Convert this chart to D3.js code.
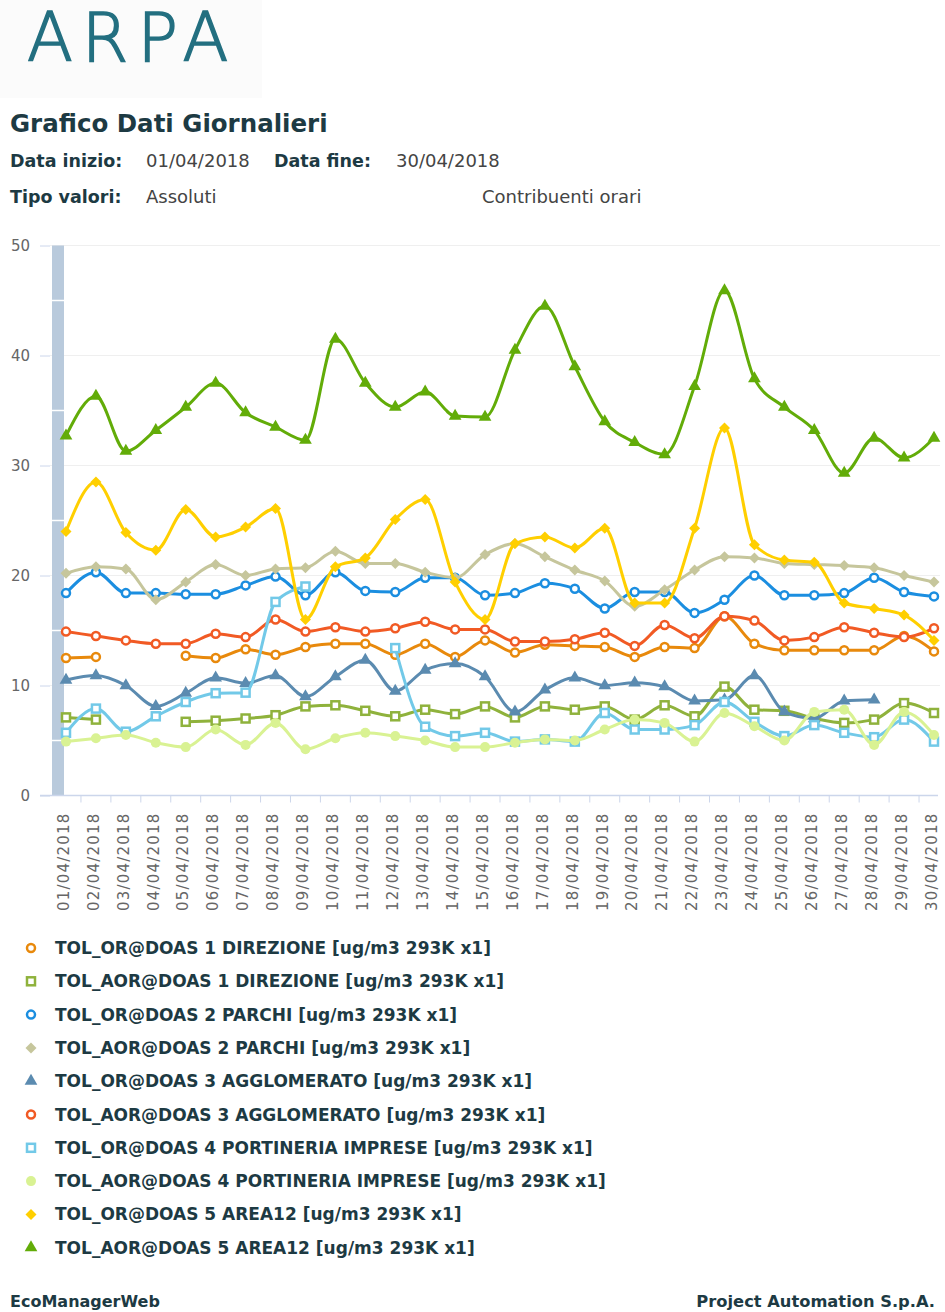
<!DOCTYPE html>
<meta charset="utf-8">
<style>
body { margin: 0; background: #fff; }
text { font-family: "DejaVu Sans", Verdana, sans-serif; }
.grid line { stroke: #efefef; stroke-width: 1; }
.axis--y path, .axis--x path { display: none; }
.axis line { stroke: #ccd6eb; }
.axis text { fill: #666; font-size: 15px; }
.series path.line { fill: none; stroke-width: 3px; stroke-linejoin: round; }
</style>
<svg width="945" height="1312"></svg>
<script src="https://d3js.org/d3.v7.min.js"></script>
<script>
var days = ["01/04/2018","02/04/2018","03/04/2018","04/04/2018","05/04/2018","06/04/2018","07/04/2018","08/04/2018","09/04/2018","10/04/2018",
            "11/04/2018","12/04/2018","13/04/2018","14/04/2018","15/04/2018","16/04/2018","17/04/2018","18/04/2018","19/04/2018","20/04/2018",
            "21/04/2018","22/04/2018","23/04/2018","24/04/2018","25/04/2018","26/04/2018","27/04/2018","28/04/2018","29/04/2018","30/04/2018"];
var yTicks = [0, 10, 20, 30, 40, 50];

var names = ["TOL_OR@DOAS 1 DIREZIONE [ug/m3 293K x1]",
             "TOL_AOR@DOAS 1 DIREZIONE [ug/m3 293K x1]",
             "TOL_OR@DOAS 2 PARCHI [ug/m3 293K x1]",
             "TOL_AOR@DOAS 2 PARCHI [ug/m3 293K x1]",
             "TOL_OR@DOAS 3 AGGLOMERATO [ug/m3 293K x1]",
             "TOL_AOR@DOAS 3 AGGLOMERATO [ug/m3 293K x1]",
             "TOL_OR@DOAS 4 PORTINERIA IMPRESE [ug/m3 293K x1]",
             "TOL_AOR@DOAS 4 PORTINERIA IMPRESE [ug/m3 293K x1]",
             "TOL_OR@DOAS 5 AREA12 [ug/m3 293K x1]",
             "TOL_AOR@DOAS 5 AREA12 [ug/m3 293K x1]"];
var colors = ["#e8890c","#8fb23c","#1b8ee0","#c6c69c","#5b8bb0","#f15a24","#72c9e8","#d9f293","#ffcf00","#62ac08"];
var shapes = ["ring","square","ring","diamond","triangle","ring","square","dot","diamond","triangle"];

var or1  = [12.5,12.6,null,null,12.7,12.5,13.3,12.8,13.5,13.8,13.8,12.8,13.8,12.6,14.1,13.0,13.7,13.6,13.5,12.6,13.5,13.4,16.3,13.8,13.2,13.2,13.2,13.2,14.5,13.1];
var aor1 = [7.1,6.9,null,null,6.7,6.8,7.0,7.3,8.1,8.2,7.7,7.2,7.8,7.4,8.1,7.1,8.1,7.8,8.1,6.9,8.2,7.2,9.9,7.8,7.7,7.0,6.6,6.9,8.4,7.5];
var or2  = [18.4,20.3,18.4,18.4,18.3,18.3,19.1,19.9,18.2,20.3,18.6,18.5,19.8,19.8,18.2,18.4,19.3,18.8,17.0,18.5,18.5,16.6,17.8,20.0,18.2,18.2,18.4,19.8,18.5,18.1];
var aor2 = [20.2,20.8,20.6,17.8,19.4,21.0,20.0,20.6,20.7,22.2,21.1,21.1,20.3,19.8,21.9,22.9,21.7,20.5,19.5,17.2,18.7,20.5,21.7,21.6,21.1,21.0,20.9,20.7,20.0,19.4];
var or3  = [10.5,10.9,10.0,8.1,9.3,10.7,10.2,10.9,9.0,10.8,12.3,9.5,11.4,12.0,10.8,7.6,9.6,10.7,10.0,10.25,9.9,8.6,8.7,10.9,7.6,7.0,8.6,8.7,null,null];
var aor3 = [14.9,14.5,14.1,13.8,13.8,14.7,14.4,16.0,14.9,15.3,14.9,15.2,15.8,15.1,15.1,14.0,14.0,14.2,14.8,13.6,15.5,14.3,16.3,15.9,14.1,14.4,15.3,14.8,14.4,15.2];
var or4  = [5.7,7.9,5.8,7.2,8.5,9.3,9.35,17.6,19.0,null,null,13.4,6.25,5.4,5.7,4.9,5.1,4.9,7.5,6.0,6.0,6.4,8.5,6.7,5.4,6.4,5.7,5.3,6.9,4.9];
var aor4 = [4.9,5.2,5.5,4.8,4.4,6.0,4.6,6.6,4.2,5.2,5.7,5.4,5.0,4.4,4.4,4.8,5.1,5.0,6.0,6.9,6.6,4.9,7.5,6.3,5.0,7.6,7.8,4.6,7.6,5.5];
var or5  = [24.0,28.5,23.9,22.3,26.0,23.5,24.4,26.1,16.0,20.8,21.6,25.1,26.9,19.4,16.0,22.9,23.5,22.5,24.3,17.5,17.5,24.3,33.4,22.8,21.4,21.2,17.5,17.0,16.4,14.1];
var aor5 = [32.7,36.3,31.3,33.2,35.3,37.5,34.8,33.5,32.3,41.5,37.5,35.3,36.7,34.5,34.4,40.5,44.5,39.0,34.0,32.1,31.0,37.2,45.9,37.9,35.3,33.2,29.3,32.5,30.7,32.5];
var seriesValues = [or1, aor1, or2, aor2, or3, aor3, or4, aor4, or5, aor5];

var svg = d3.select("svg");
var ink = "#1d3a43";

// logo
svg.append("rect").attr("x", 0).attr("y", 0).attr("width", 262).attr("height", 98).attr("fill", "#fbfbfb");
svg.append("text").attr("x", 27).attr("y", 61)
    .style("font-size", "67px").style("font-weight", 200).style("letter-spacing", "9px")
    .attr("fill", "#236f80").attr("stroke", "#236f80").attr("stroke-width", 1.6)
    .text("ARPA");

// header
svg.append("text").attr("x", 10).attr("y", 132).style("font-size", "24.5px").style("font-weight", "bold")
    .attr("fill", ink).text("Grafico Dati Giornalieri");
function label(x, y, t, bold) {
  svg.append("text").attr("x", x).attr("y", y).style("font-size", bold ? "17.5px" : "18px")
    .style("font-weight", bold ? "bold" : "normal").attr("fill", bold ? ink : "#444").text(t);
}
label(10, 167, "Data inizio:", true);
label(146, 167, "01/04/2018");
label(274, 167, "Data fine:", true);
label(396, 167, "30/04/2018");
label(10, 203, "Tipo valori:", true);
label(146, 203, "Assoluti");
label(482, 203, "Contribuenti orari");

// chart
var x = d3.scaleLinear().domain([0, days.length - 1]).range([66, 934]),
    y = d3.scaleLinear().domain([0, 50]).range([795.5, 245.5]);

svg.append("g").attr("class", "grid")
  .selectAll("line").data(yTicks.slice(1)).enter().append("line")
    .attr("x1", 50).attr("x2", 940)
    .attr("y1", function(d) { return y(d); }).attr("y2", function(d) { return y(d); });

// column at left edge
svg.append("rect").attr("x", 52).attr("width", 12)
    .attr("y", y(50)).attr("height", y(0) - y(50)).attr("fill", "#b9cadc");
svg.append("g").selectAll("line").data([5, 15, 25, 35, 45]).enter().append("line")
    .attr("x1", 52).attr("x2", 64)
    .attr("y1", function(d) { return y(d); }).attr("y2", function(d) { return y(d); })
    .attr("stroke", "#fff").attr("stroke-width", 1.5);

svg.append("g").attr("class", "axis axis--y")
    .attr("transform", "translate(50,0)")
    .call(d3.axisLeft(y).tickValues(yTicks).tickSize(10).tickPadding(10));

svg.append("line").attr("x1", 40).attr("x2", 938).attr("y1", y(0)).attr("y2", y(0))
    .attr("stroke", "#ccd6eb").attr("stroke-width", 1.5);

// tick marks between categories
svg.append("g").attr("class", "axis")
  .selectAll("line").data(d3.range(days.length - 1)).enter().append("line")
    .attr("x1", function(i) { return x(i + 0.5); }).attr("x2", function(i) { return x(i + 0.5); })
    .attr("y1", y(0)).attr("y2", y(0) + 7);

svg.append("g").attr("class", "axis axis--x")
    .attr("transform", "translate(0," + y(0) + ")")
    .call(d3.axisBottom(x).tickValues(d3.range(days.length)).tickFormat(function(i) { return days[i]; }).tickSize(0))
  .selectAll("text")
    .attr("transform", "rotate(-90)")
    .attr("x", -17).attr("y", -3).attr("dy", "0.35em")
    .style("text-anchor", "end").style("letter-spacing", "1.2px");

function drawMarker(sel, shape, color) {
  if (shape === "ring") {
    sel.append("circle").attr("r", 4).attr("fill", "#fff").attr("stroke", color).attr("stroke-width", 2.5);
  } else if (shape === "dot") {
    sel.append("circle").attr("r", 5).attr("fill", color);
  } else if (shape === "square") {
    sel.append("rect").attr("x", -4).attr("y", -4).attr("width", 8).attr("height", 8)
      .attr("fill", "#fff").attr("stroke", color).attr("stroke-width", 2.5);
  } else if (shape === "diamond") {
    sel.append("path").attr("d", "M0,-5.5L5.5,0L0,5.5L-5.5,0Z").attr("fill", color);
  } else {
    sel.append("path").attr("d", d3.symbol().type(d3.symbolTriangle).size(70)()).attr("fill", color);
  }
}

var line = d3.line()
    .defined(function(d) { return d != null; })
    .curve(d3.curveMonotoneX)
    .x(function(d, i) { return x(i); })
    .y(function(d) { return y(d); });

seriesValues.forEach(function(vals, k) {
  var g = svg.append("g").attr("class", "series");
  g.append("path").attr("class", "line").attr("d", line(vals)).attr("stroke", colors[k]);
  vals.forEach(function(v, i) {
    if (v == null) return;
    drawMarker(g.append("g").attr("transform", "translate(" + x(i) + "," + y(v) + ")"), shapes[k], colors[k]);
  });
});

// legend
var legend = svg.append("g").selectAll("g").data(names).enter().append("g")
    .attr("transform", function(d, i) { return "translate(0," + (948 + i * 33.3) + ")"; });
legend.each(function(d, i) {
  drawMarker(d3.select(this).append("g").attr("transform", "translate(31,0)"), shapes[i], colors[i]);
});
legend.append("text").attr("x", 55).attr("y", 6)
    .style("font-size", "17px").style("font-weight", "bold").attr("fill", ink)
    .text(function(d) { return d; });

// footer
svg.append("text").attr("x", 10).attr("y", 1307).style("font-size", "16px").style("font-weight", "bold")
    .attr("fill", ink).text("EcoManagerWeb");
svg.append("text").attr("x", 935).attr("y", 1307).style("font-size", "16.3px").style("font-weight", "bold")
    .style("text-anchor", "end").attr("fill", ink).text("Project Automation S.p.A.");
</script>
